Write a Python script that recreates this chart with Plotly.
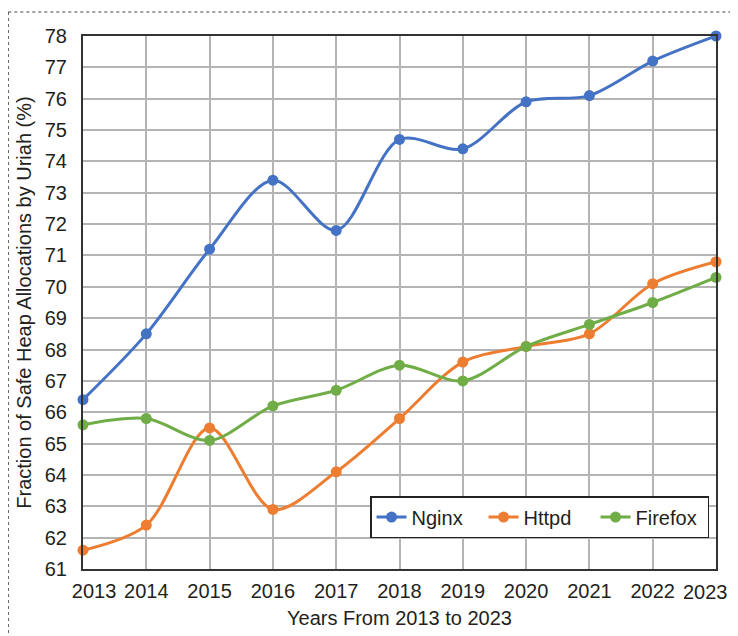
import plotly.graph_objects as go

years = [2013, 2014, 2015, 2016, 2017, 2018, 2019, 2020, 2021, 2022, 2023]
nginx = [66.4, 68.5, 71.2, 73.4, 71.8, 74.7, 74.4, 75.9, 76.1, 77.2, 78.0]
httpd = [61.6, 62.4, 65.5, 62.9, 64.1, 65.8, 67.6, 68.1, 68.5, 70.1, 70.8]
firefox = [65.6, 65.8, 65.1, 66.2, 66.7, 67.5, 67.0, 68.1, 68.8, 69.5, 70.3]

series = [("Nginx", nginx, "#4472C4"), ("Httpd", httpd, "#ED7D31"), ("Firefox", firefox, "#70AD47")]

# first label nudged right (as in the reference) with non-breaking spaces;
# last label drawn as an annotation anchored at the right edge so it is not cut off
nb = "\u00a0"
tick_labels = []
for i, y in enumerate(years):
    s = str(y)
    if i == 0:
        s = nb * 4 + s
    elif i == len(years) - 1:
        s = ""
    tick_labels.append(s)

fig = go.Figure()
for name, vals, col in series:
    fig.add_trace(go.Scatter(x=years, y=vals, name=name, mode="lines+markers",
                             line=dict(color=col, width=3, shape="spline", smoothing=0.9),
                             marker=dict(color=col, size=11), cliponaxis=False))

font = "Liberation Sans, Arial, sans-serif"
txt = "#231f20"
fig.update_layout(
    width=730, height=628,
    margin=dict(l=75, r=22, t=28, b=67, autoexpand=False),
    paper_bgcolor="white", plot_bgcolor="white",
    font=dict(family=font, size=20, color=txt),
    showlegend=True,
    legend=dict(orientation="h", x=0.989, xanchor="right", y=0.058, yanchor="bottom",
                bordercolor="#222222", borderwidth=1.5, bgcolor="white",
                font=dict(size=20), tracegroupgap=0,
                entrywidth=67, entrywidthmode="pixels"),
    xaxis=dict(range=[2013, 2023], tickmode="array", tickvals=years, ticktext=tick_labels,
               showgrid=True, gridcolor="#b4b4b4", gridwidth=1.5,
               showline=True, linecolor="#333333", linewidth=2, mirror=True,
               ticks="", zeroline=False, automargin=False, ticklabelstandoff=3,
               ticklabeloverflow="allow",
               title=dict(text="Years From 2013 to 2023", font=dict(size=20), standoff=10)),
    yaxis=dict(range=[61, 78], dtick=1, tick0=61,
               showgrid=True, gridcolor="#b4b4b4", gridwidth=1.5,
               showline=True, linecolor="#333333", linewidth=2, mirror=True,
               ticks="", zeroline=False, automargin=False, ticklabelstandoff=10,
               ticklabeloverflow="allow",
               title=dict(text="Fraction of Safe Heap Allocations by Uriah (%)", font=dict(size=20), standoff=8)),
    annotations=[
        dict(x=years[-1], xref="x", y=0, yref="paper", yanchor="top", xanchor="right",
             xshift=13, yshift=-11, text=str(years[-1]), showarrow=False,
             font=dict(size=20, color=txt, family=font), borderpad=0),
    ],
    shapes=[
        dict(type="line", xref="paper", yref="paper", x0=-0.118, x1=1.1, y0=1.045, y1=1.045,
             line=dict(color="#444444", width=1, dash="dot")),
        dict(type="line", xref="paper", yref="paper", x0=-0.118, x1=-0.118, y0=1.045, y1=-0.15,
             line=dict(color="#444444", width=1, dash="dot")),
    ],
)

fig.write_html("out.html")
